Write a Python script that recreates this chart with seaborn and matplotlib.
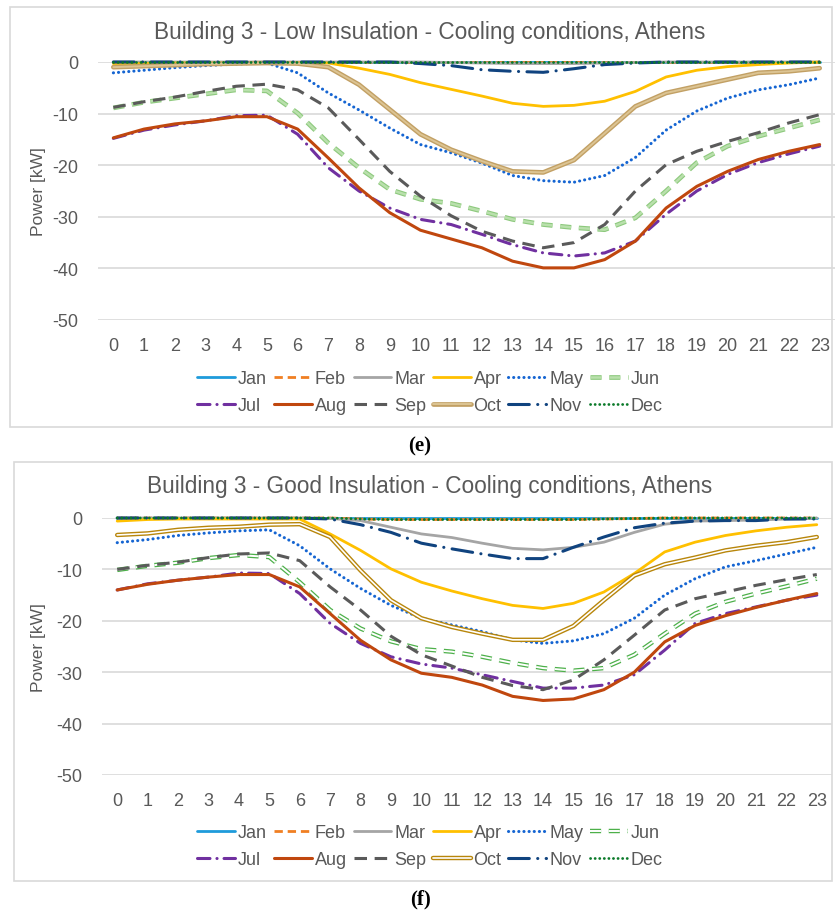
import matplotlib
matplotlib.use("Agg")
import matplotlib.pyplot as plt
import matplotlib.patheffects as pe
from matplotlib.patches import Rectangle
import seaborn as sns

# ---------------- data ----------------
hours = list(range(24))
months = ["Jan", "Feb", "Mar", "Apr", "May", "Jun",
          "Jul", "Aug", "Sep", "Oct", "Nov", "Dec"]

title_e = "Building 3 - Low Insulation - Cooling conditions, Athens"
title_f = "Building 3 - Good Insulation - Cooling conditions, Athens"
y_ticks = [0, -10, -20, -30, -40, -50]

e_jan = [0, 0, 0, 0, 0, 0, 0, 0, 0, 0, 0, 0, 0, 0, 0, 0, 0, 0, 0, 0, 0, 0, 0, 0]
e_feb = [0, 0, 0, 0, 0, 0, 0, 0, 0, 0, 0, 0, 0, 0, 0, 0, 0, 0, 0, 0, 0, 0, 0, 0]
e_mar = [0, 0, 0, 0, 0, 0, 0, 0, 0, 0, 0, -0.1, -0.2, -0.3, -0.3, -0.3, -0.2, -0.1, 0, 0, 0, 0, 0, 0]
e_apr = [-0.3, -0.3, -0.2, -0.2, -0.2, -0.1, -0.1, -0.2, -1.2, -2.4, -4.0, -5.3,
         -6.6, -8.0, -8.6, -8.4, -7.6, -5.7, -2.9, -1.6, -0.9, -0.5, -0.2, 0.0]
e_may = [-2.1, -1.6, -1.1, -0.7, -0.4, -0.2, -2.1, -6.0, -9.3, -12.8, -16.0, -17.6,
         -19.6, -22.0, -23.0, -23.3, -22.0, -18.5, -13.2, -9.5, -7.0, -5.4, -4.4, -3.1]
e_jun = [-8.9, -7.8, -7.0, -6.2, -5.4, -5.6, -9.9, -15.7, -20.5, -24.7, -26.6, -27.4,
         -28.9, -30.5, -31.5, -32.1, -32.5, -30.2, -25.0, -19.5, -16.3, -14.4, -12.8, -11.2]
e_jul = [-14.8, -13.2, -12.2, -11.4, -10.4, -10.3, -14.0, -20.5, -25.0, -28.3, -30.5, -31.5,
         -33.4, -35.4, -37.0, -37.6, -37.0, -34.7, -29.5, -25.0, -21.8, -19.5, -17.8, -16.3]
e_aug = [-14.7, -13.0, -12.0, -11.4, -10.6, -10.6, -13.0, -18.6, -24.4, -29.2, -32.6, -34.3,
         -36.0, -38.6, -39.9, -39.9, -38.3, -34.7, -28.3, -24.1, -21.2, -18.9, -17.3, -16.0]
e_sep = [-8.8, -7.7, -6.8, -5.7, -4.7, -4.3, -5.4, -8.9, -15.0, -21.2, -26.0, -29.8,
         -32.8, -34.7, -36.0, -35.0, -31.5, -25.0, -19.9, -17.3, -15.4, -13.7, -11.8, -10.2]
e_oct = [-1.0, -0.8, -0.6, -0.4, -0.3, -0.2, -0.3, -1.0, -4.4, -9.2, -14.0, -17.0,
         -19.2, -21.2, -21.4, -19.0, -13.8, -8.6, -6.0, -4.7, -3.4, -2.1, -1.8, -1.2]
e_nov = [0, 0, 0, 0, 0, 0, 0, 0, 0, 0, -0.3, -0.7, -1.5, -1.8, -2.0, -1.3, -0.5, -0.2, 0, 0, 0, 0, 0, 0]
e_dec = [0, 0, 0, 0, 0, 0, 0, 0, 0, 0, 0, 0, 0, 0, 0, 0, 0, 0, 0, 0, 0, 0, 0, 0]

f_jan = [0, 0, 0, 0, 0, 0, 0, 0, 0, 0, 0, 0, 0, 0, 0, 0, 0, 0, 0, 0, 0, 0, 0, 0]
f_feb = [0, 0, 0, 0, 0, 0, 0, 0, -0.2, -0.3, -0.3, -0.3, -0.3, -0.3, -0.3, -0.3, -0.2, -0.1, 0, 0, 0, 0, 0, 0]
f_mar = [0, 0, 0, 0, 0, 0, 0, -0.1, -0.5, -1.8, -3.1, -3.8,
         -4.9, -5.9, -6.2, -5.7, -4.7, -2.8, -1.2, -0.6, -0.5, -0.4, -0.2, 0.0]
f_apr = [-0.6, -0.3, -0.2, -0.2, -0.2, -0.2, -0.2, -3.1, -6.3, -9.9, -12.5, -14.2,
         -15.7, -17.0, -17.6, -16.6, -14.4, -10.8, -6.6, -4.7, -3.4, -2.5, -1.8, -1.3]
f_may = [-4.8, -4.2, -3.4, -2.9, -2.5, -2.3, -5.4, -9.9, -13.7, -17.0, -19.5, -20.8,
         -22.1, -23.7, -24.4, -23.9, -22.5, -19.5, -15.0, -11.8, -9.5, -8.3, -7.0, -5.7]
f_jun = [-10.1, -9.3, -8.7, -7.8, -7.2, -7.6, -12.5, -17.9, -21.5, -24.0, -25.5, -26.0,
         -27.0, -28.2, -29.2, -29.7, -29.2, -26.6, -22.5, -18.6, -16.3, -14.7, -13.3, -11.8]
f_jul = [-14.0, -12.8, -12.1, -11.5, -10.7, -10.8, -14.7, -20.5, -24.4, -27.0, -28.4, -29.2,
         -30.5, -31.8, -33.1, -33.1, -32.5, -30.5, -25.7, -20.5, -18.6, -17.3, -16.0, -15.0]
f_aug = [-14.0, -12.9, -12.1, -11.5, -11.0, -11.0, -13.4, -18.6, -23.8, -27.6, -30.2, -31.0,
         -32.5, -34.7, -35.5, -35.2, -33.4, -30.0, -24.1, -20.9, -19.0, -17.4, -16.0, -14.7]
f_sep = [-10.0, -9.2, -8.6, -7.7, -7.0, -6.8, -8.3, -13.4, -17.9, -23.0, -26.6, -28.8,
         -31.0, -32.6, -33.4, -31.5, -27.6, -22.8, -17.9, -15.7, -14.4, -13.1, -12.0, -11.0]
f_oct = [-3.3, -3.0, -2.3, -1.9, -1.7, -1.3, -1.2, -3.7, -10.2, -16.0, -19.5, -21.2,
         -22.5, -23.7, -23.7, -21.0, -16.0, -11.2, -9.0, -7.7, -6.3, -5.4, -4.7, -3.7]
f_nov = [0, 0, 0, 0, 0, 0, 0, -0.2, -1.3, -2.8, -4.9, -6.0,
         -7.0, -7.9, -7.9, -5.7, -3.7, -1.9, -1.0, -0.6, -0.5, -0.5, -0.2, -0.2]
f_dec = [0, 0, 0, 0, 0, 0, 0, 0, -0.2, -0.3, -0.3, -0.3, -0.3, -0.3, -0.3, -0.3, -0.2, -0.1, 0, 0, 0, 0, 0, 0]

series_e = [e_jan, e_feb, e_mar, e_apr, e_may, e_jun, e_jul, e_aug, e_sep, e_oct, e_nov, e_dec]
series_f = [f_jan, f_feb, f_mar, f_apr, f_may, f_jun, f_jul, f_aug, f_sep, f_oct, f_nov, f_dec]

# ---------------- styles ----------------
sns.set_style("white")
plt.rcParams["font.family"] = ["Liberation Sans", "DejaVu Sans"]
plt.rcParams["lines.scale_dashes"] = False

colors = {"Jan": "#1E9BDB", "Feb": "#F07F22", "Mar": "#A5A5A5", "Apr": "#FFC000",
          "May": "#1565D2", "Jun": "#7CC36B", "Jul": "#7030A0", "Aug": "#C0470E",
          "Sep": "#5A5A5A", "Oct": "#C7A362", "Nov": "#10437F", "Dec": "#0B7A2A"}
dashes = {"Jan": None, "Feb": (6, 3.5), "Mar": None, "Apr": None,
          "May": (0.1, 3.6), "Jun": (8, 5.5), "Jul": (9, 5, 0.1, 5),
          "Aug": None, "Sep": (9, 5.5), "Oct": None, "Nov": (15, 6, 0.1, 6),
          "Dec": (0.1, 3.2)}
widths = {"Jan": 2.0, "Feb": 2.0, "Mar": 2.0, "Apr": 2.0, "May": 2.2, "Jun": 2.0,
          "Jul": 2.2, "Aug": 2.2, "Sep": 2.2, "Oct": 2.2, "Nov": 2.2, "Dec": 2.0}

GRAY = "#595959"
W, H = 839, 920
fig = plt.figure(figsize=(W / 100, H / 100), dpi=100)


def fx(px):
    return px / W


def fy(py):
    return 1 - py / H


def draw_panel(series, title, ax_px, box_px, title_y, leg_y, lab, lab_y, variant):
    l, r, t, b = ax_px
    ax = fig.add_axes([fx(l), fy(b), fx(r - l), (b - t) / H])
    handles = []
    for m, vals in zip(months, series):
        sns.lineplot(x=hours, y=vals, ax=ax, color=colors[m], lw=widths[m],
                     legend=False, label=m)
        line = ax.lines[-1]
        line.set_clip_on(False)
        d = dashes[m]
        if d is not None:
            line.set_dashes(d)
            line.set_dash_capstyle("round" if m in ("May", "Dec", "Jul", "Nov") else "butt")
        if m == "Jun":
            if variant == "e":
                line.set_path_effects([pe.Stroke(linewidth=3.4, foreground="#8DC97D"),
                                       pe.Stroke(linewidth=1.8, foreground="#B9E0AC")])
            else:
                line.set_path_effects([pe.Stroke(linewidth=3.2, foreground="#4DB04A"),
                                       pe.Stroke(linewidth=1.4, foreground="white")])
        if m == "Oct":
            if variant == "e":
                line.set_path_effects([pe.Stroke(linewidth=3.4, foreground="#C2A064"),
                                       pe.Stroke(linewidth=1.4, foreground="#DCC493")])
            else:
                line.set_path_effects([pe.Stroke(linewidth=3.2, foreground="#B8860B"),
                                       pe.Stroke(linewidth=1.2, foreground="white")])
        handles.append(line)
    ax.set_xlim(-0.5, 23.5)
    ax.set_ylim(-50, 0)
    ax.set_xticks(hours)
    ax.set_xticklabels([str(h) for h in hours])
    ax.set_yticks(y_ticks)
    ax.set_yticklabels([str(v) for v in y_ticks])
    ax.tick_params(axis="both", length=0, labelsize=13, colors=GRAY)
    ax.tick_params(axis="x", pad=12)
    ax.tick_params(axis="y", pad=14)
    ax.grid(axis="y", color="#D9D9D9", lw=1.2)
    ax.grid(axis="x", visible=False)
    for s in ax.spines.values():
        s.set_visible(False)
    ax.set_xlabel("")
    ax.set_ylabel("")
    ax.set_axisbelow(True)
    fig.text(fx(38), fy((t + b) / 2), "Power [kW]", rotation=90, ha="center",
             va="center", fontsize=12.5, color=GRAY)
    fig.text(fx(430), fy(title_y), title, ha="center", va="center",
             fontsize=16.3, color=GRAY)
    # legend filled column-wise -> reorder so rows read Jan..Jun / Jul..Dec
    order = [0, 6, 1, 7, 2, 8, 3, 9, 4, 10, 5, 11]
    leg = fig.legend([handles[i] for i in order], [months[i] for i in order],
                     loc="center", bbox_to_anchor=(fx(430), fy(leg_y)),
                     ncol=6, frameon=False, fontsize=13, handlelength=2.1,
                     handletextpad=0.15, columnspacing=0.38, labelspacing=0.55,
                     borderpad=0)
    for txt in leg.get_texts():
        txt.set_color(GRAY)
    bl, bt, br, bb = box_px
    fig.patches.append(Rectangle((fx(bl), fy(bb)), fx(br - bl), (bb - bt) / H,
                                 transform=fig.transFigure, fill=False,
                                 edgecolor="#D9D9D9", lw=1.2))
    fig.text(fx(420), fy(lab_y), lab, ha="center", va="center", fontsize=15,
             fontweight="bold", family=["Liberation Serif", "DejaVu Serif"], color="black")


draw_panel(series_e, title_e, (98, 835, 63, 321), (10, 8, 832, 428), 33, 393,
           "(e)", 446, "e")
draw_panel(series_f, title_f, (102, 832, 519, 776), (14, 463, 832, 882), 487, 847,
           "(f)", 899, "f")

fig.savefig("out.png", dpi=100, facecolor="white")
